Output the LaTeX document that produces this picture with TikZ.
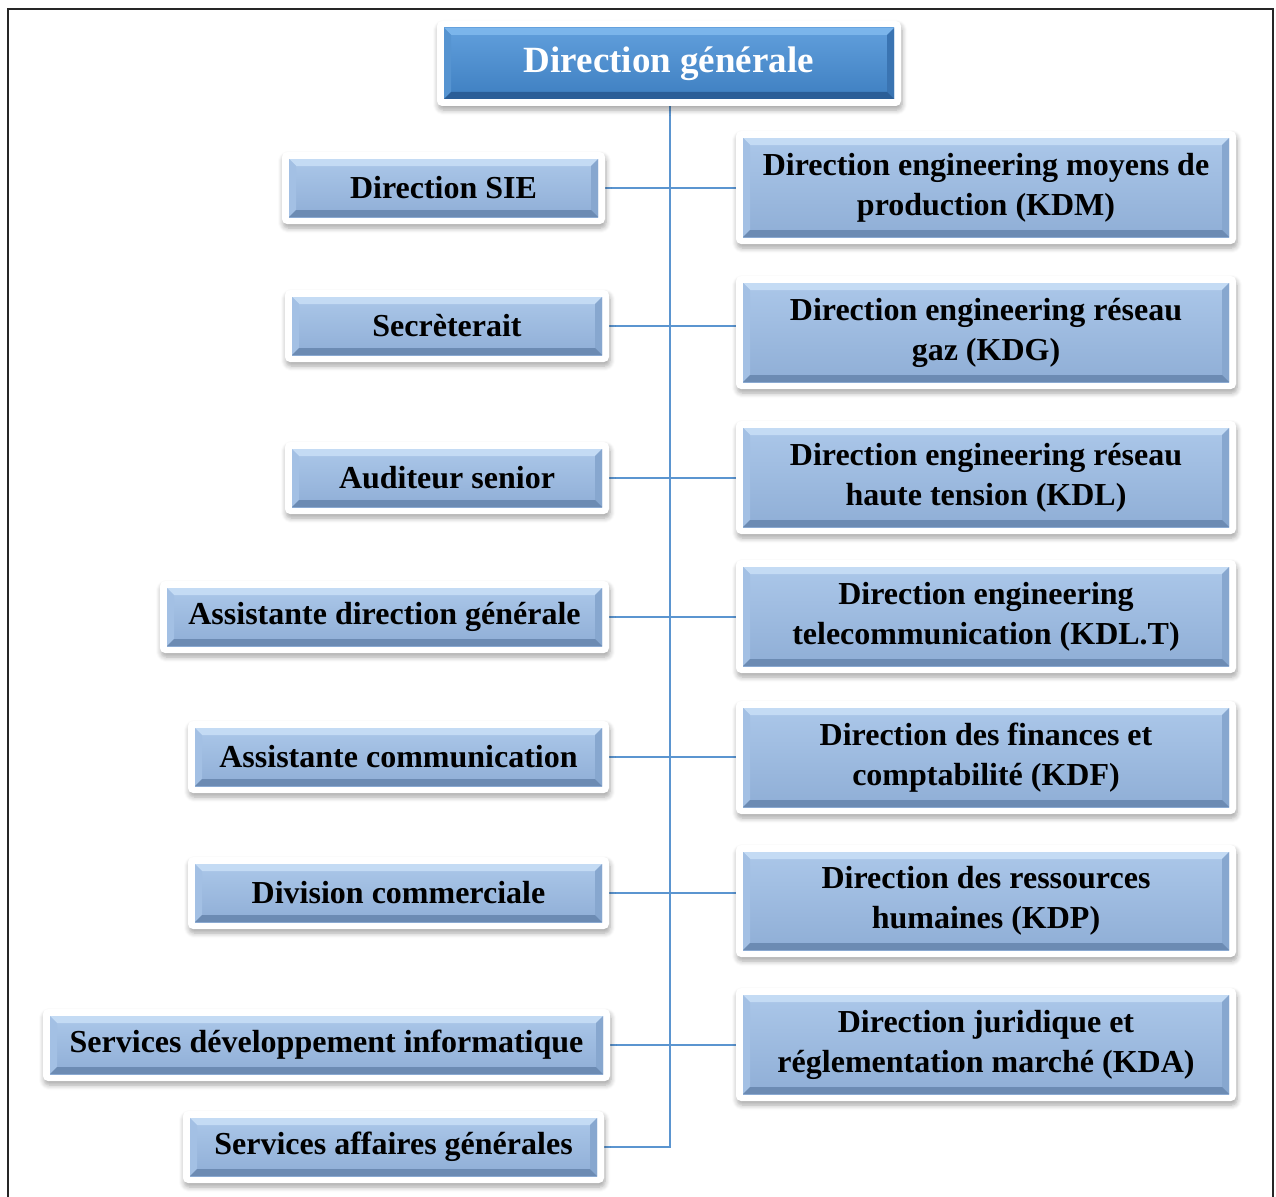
\documentclass[tikz,border=0pt]{standalone}
\usepackage{fontspec}
\setmainfont{Liberation Serif}
\usetikzlibrary{shadows.blur,backgrounds}

% palette
\definecolor{lbtop}{HTML}{ABC7E9}
\definecolor{lbbot}{HTML}{8FAED6}
\definecolor{lbT}{HTML}{C4DBF4}
\definecolor{lbL}{HTML}{A3C0E4}
\definecolor{lbR}{HTML}{87A7CF}
\definecolor{lbB}{HTML}{6C8BB3}
\definecolor{dbtop}{HTML}{619FDC}
\definecolor{dbbot}{HTML}{3E7FC1}
\definecolor{dbT}{HTML}{7BB5EB}
\definecolor{dbL}{HTML}{5694D1}
\definecolor{dbR}{HTML}{3A74B2}
\definecolor{dbB}{HTML}{2B5E97}
\definecolor{linkblue}{HTML}{5B95D0}

\tikzset{
  % bevelled rim of a box: top, left, right, bottom faces
  bevel/.style n args={4}{path picture={
    \coordinate (bsw) at (path picture bounding box.south west);
    \coordinate (bne) at (path picture bounding box.north east);
    \coordinate (bnw) at (bsw|-bne);
    \coordinate (bse) at (bne|-bsw);
    \fill[#1] (bnw) -- (bne) -- ([shift={(-7pt,-7pt)}]bne) -- ([shift={(7pt,-7pt)}]bnw) -- cycle;
    \fill[#2] (bnw) -- ([shift={(7pt,-7pt)}]bnw) -- ([shift={(7pt,7pt)}]bsw) -- (bsw) -- cycle;
    \fill[#3] (bne) -- (bse) -- ([shift={(-7pt,7pt)}]bse) -- ([shift={(-7pt,-7pt)}]bne) -- cycle;
    \fill[#4] (bsw) -- (bse) -- ([shift={(-7pt,7pt)}]bse) -- ([shift={(7pt,7pt)}]bsw) -- cycle;
  }},
  orgframe/.style={fill=white, rounded corners=5pt,
    blur shadow={shadow xshift=1pt, shadow yshift=-4pt, shadow blur radius=5pt,
                 shadow blur steps=6, shadow opacity=35}},
  lbox/.style={draw=none, top color=lbtop, bottom color=lbbot, inner sep=0pt, outer sep=0pt,
    align=center, text=black, font=\bfseries\fontsize{32}{40}\selectfont,
    bevel={lbT}{lbL}{lbR}{lbB}},
  dbox/.style={draw=none, top color=dbtop, bottom color=dbbot, inner sep=0pt, outer sep=0pt,
    align=center, text=white, font=\bfseries\fontsize{37}{44}\selectfont,
    bevel={dbT}{dbL}{dbR}{dbB}},
  link/.style={draw=linkblue, line width=2pt},
}

% white framed, shadowed box: [style]{name}{x1}{y1}{x2}{y2}{text}
\newcommand\orgbox[7][lbox]{%
  \path[orgframe] (#3-7,#4-7) rectangle (#5+7,#6+7);
  \node[#1, minimum width={(#5)-(#3)}, minimum height={(#6)-(#4)}]
    (#2) at ({(#3+#5)/2},{(#4+#6)/2}) {#7};
}

\begin{document}
\begin{tikzpicture}[x=1pt,y=-1pt]
\useasboundingbox (0,0) rectangle (1276,1196);

% page frame
\draw[line width=2.2pt, draw=black!85] (8,1200) -- (8,9) -- (1273,9) -- (1273,1200);

% head
\orgbox[dbox]{dg}{444}{28}{894}{99}{Direction générale}

% left column
\orgbox{sie}{289}{159}{598}{217}{Direction SIE}
\orgbox{sec}{292}{297}{602}{355}{Secrèterait}
\orgbox{aud}{292}{449}{602}{507}{Auditeur senior}
\orgbox{asd}{167}{588}{602}{646}{Assistante direction générale}
\orgbox{asc}{195}{728}{602}{786}{Assistante communication}
\orgbox{div}{195}{864}{602}{922}{Division commerciale}
\orgbox{sdi}{50}{1016}{603}{1074}{Services développement informatique}
\orgbox{sag}{190}{1118}{597}{1176}{Services affaires générales}

% right column
\orgbox{kdm}{743}{138}{1229}{237}{Direction engineering moyens de\\production (KDM)}
\orgbox{kdg}{743}{283}{1229}{382}{Direction engineering réseau\\gaz (KDG)}
\orgbox{kdl}{743}{428}{1229}{527}{Direction engineering réseau\\haute tension (KDL)}
\orgbox{kdlt}{743}{567}{1229}{666}{Direction engineering\\telecommunication (KDL.T)}
\orgbox{kdf}{743}{708}{1229}{807}{Direction des finances et\\comptabilité (KDF)}
\orgbox{kdp}{743}{852}{1229}{950}{Direction des ressources\\humaines (KDP)}
\orgbox{kda}{743}{995}{1229}{1094}{Direction juridique et\\réglementation marché (KDA)}

\coordinate (trunk) at (670,1147);

% connectors
\begin{scope}[on background layer]
  \draw[link] (dg.south -| trunk) -- (trunk) -- (sag.east);
  \draw[link] (sie.east) -- (sie.east -| kdm.west);
  \draw[link] (sec.east) -- (sec.east -| kdg.west);
  \draw[link] (aud.east) -- (aud.east -| kdl.west);
  \draw[link] (asd.east) -- (asd.east -| kdlt.west);
  \draw[link] (asc.east) -- (asc.east -| kdf.west);
  \draw[link] (div.east) -- (div.east -| kdp.west);
  \draw[link] (sdi.east) -- (sdi.east -| kda.west);
\end{scope}
\end{tikzpicture}
\end{document}
